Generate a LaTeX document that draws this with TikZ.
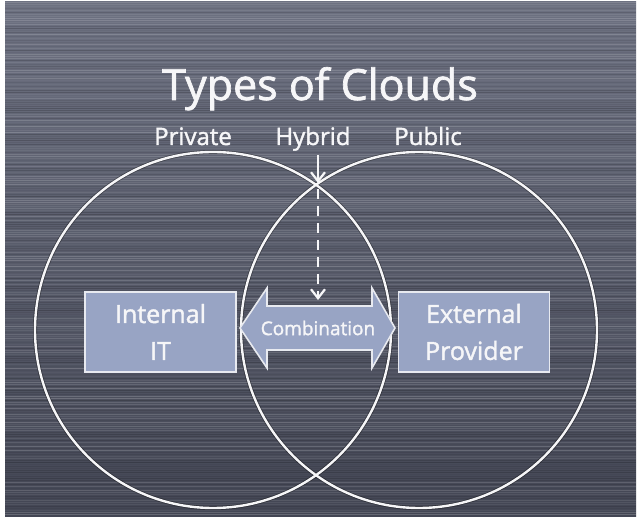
\documentclass[tikz,border=0pt]{standalone}
\usepackage{fontspec}
\setmainfont{Open Sans}[FakeBold=1.6]
\usetikzlibrary{arrows.meta}
\definecolor{bgtop}{HTML}{6D7181}
\definecolor{bgbot}{HTML}{434654}
\definecolor{boxfill}{HTML}{98A4C4}
\definecolor{chalk}{HTML}{F6F6F8}
\begin{document}
\begin{tikzpicture}[x=1pt,y=-1pt,
  chalkline/.style={draw=chalk, line width=2.4pt},
  shadowline/.style={draw=black, opacity=0.35, line width=4pt},
  cloudbox/.style={draw=chalk!85!boxfill, line width=1.6pt, fill=boxfill, minimum width=151pt, minimum height=80pt, inner sep=0pt, align=center, text=chalk, font=\fontsize{25}{37}\selectfont},
  label/.style={text=chalk, font=\fontsize{24}{28}\selectfont, anchor=base, inner sep=0pt},
  vhead/.style={-{Straight Barb[length=9pt,width=14pt,line width=2.2pt]}}
]
\useasboundingbox (0,0) rectangle (638,526);
\fill[white] (0,0) rectangle (638,526);
\shade[top color=bgtop, bottom color=bgbot] (5,2) rectangle (636,517);
% chalkboard scan stripes
\pgfmathsetseed{11}
\foreach \i in {0,...,256} {
  \pgfmathsetmacro\yy{3+2*\i}
  \pgfmathsetmacro\oo{0.03+0.16*rnd}
  \pgfmathsetmacro\cc{rnd>0.45 ? 1 : 0}
  \ifdim\cc pt>0.5pt
    \draw[white, opacity=\oo, line width=1pt] (5,\yy) -- (636,\yy);
  \else
    \draw[black, opacity=\oo, line width=1pt] (5,\yy) -- (636,\yy);
  \fi
}
% title and labels
\node[label, font=\fontsize{43}{50}\selectfont] (title) at (320,100) {Types of Clouds};
\node[label] (private) at (193,145) {Private};
\node[label] (hybrid) at (313,145) {Hybrid};
\node[label] (public) at (428,145) {Public};
% circles
\draw[shadowline] (213,330) circle[radius=178];
\draw[shadowline] (419,330) circle[radius=178];
\draw[chalkline] (213,330) circle[radius=178];
\draw[chalkline] (419,330) circle[radius=178];
% boxes
\node[cloudbox] (internal) at (160.5,332) {Internal\\IT};
\node[cloudbox] (external) at (474,332) {External\\Provider};
% combination double arrow
\coordinate (cl) at (240,328);
\coordinate (cr) at (395,328);
\filldraw[fill=boxfill, draw=chalk!85!boxfill, line width=1.6pt]
  (cl) -- (267,288) -- (267,306) -- (372,306) -- (372,288) -- (cr)
  -- (372,368) -- (372,350) -- (267,350) -- (267,368) -- cycle;
\node[text=chalk, font=\fontsize{19}{22}\selectfont, inner sep=0pt] (comb) at (318,328) {Combination};
% hybrid arrow
\coordinate (meet) at (318,183);
\coordinate (combtop) at (318,300);
\draw[chalk, line width=2.4pt, vhead] (hybrid.south -| meet) ++(0,4) -- (meet);
\draw[chalk, line width=2.4pt, dash pattern=on 10pt off 7pt, vhead] (meet) ++(0,6) -- (combtop);
\end{tikzpicture}
\end{document}
